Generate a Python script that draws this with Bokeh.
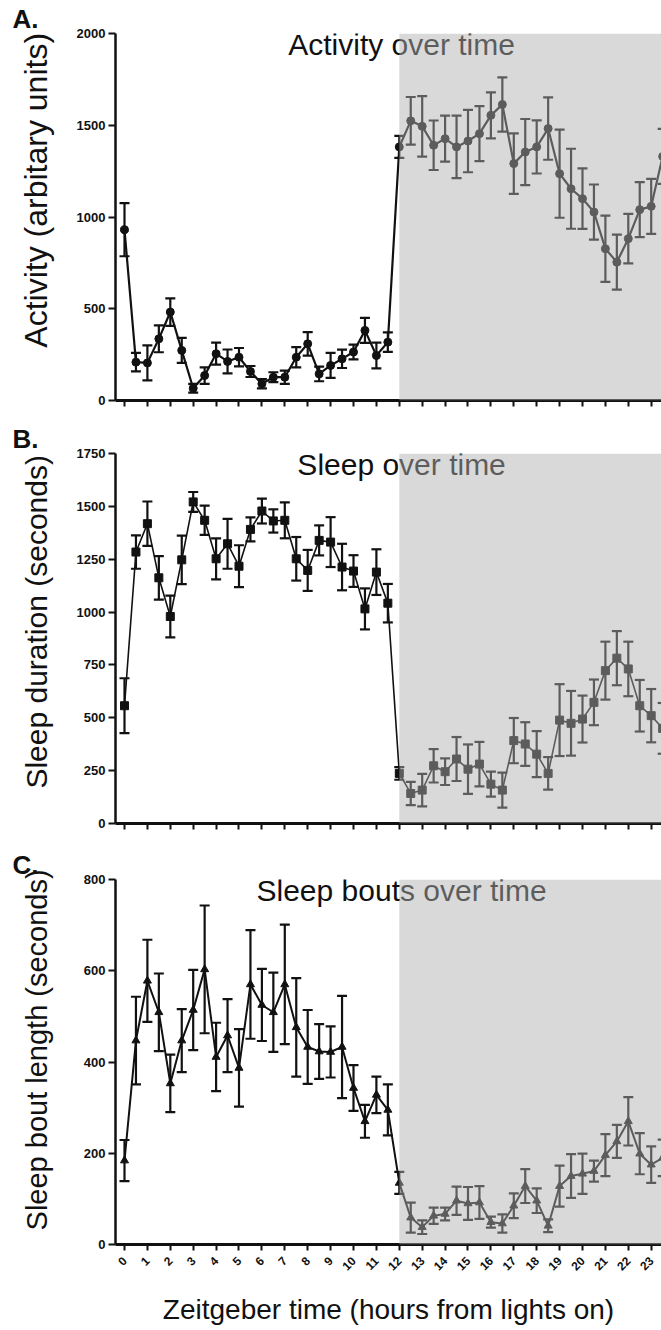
import math
from bokeh.plotting import figure
from bokeh.models import (ColumnDataSource, Whisker, TeeHead, BoxAnnotation, Label,
                          Range1d, FixedTicker)
from bokeh.layouts import column
from bokeh.embed import file_html
from bokeh.resources import INLINE

# Zeitgeber time of each sample (hours from lights on)
zt = [0, 0.5, 1, 1.5, 2, 2.5, 3, 3.5, 4, 4.5, 5, 5.5, 6, 6.5, 7, 7.5,
      8, 8.5, 9, 9.5, 10, 10.5, 11, 11.5, 12, 12.5, 13, 13.5, 14, 14.5, 15, 15.5,
      16, 16.5, 17, 17.5, 18, 18.5, 19, 19.5, 20, 20.5, 21, 21.5, 22, 22.5, 23, 23.5]
hour_ticks = [0, 1, 2, 3, 4, 5, 6, 7, 8, 9, 10, 11, 12, 13, 14, 15, 16, 17, 18, 19, 20, 21, 22, 23]
dark_start = 12

activity_mean = [931, 209, 205, 336, 482, 273, 67, 136, 255, 213, 236, 158, 91, 127, 127, 236,
                 309, 145, 191, 227, 264, 382, 245, 318, 1382, 1524, 1494, 1391, 1427, 1382, 1414, 1454,
                 1554, 1613, 1291, 1354, 1382, 1482, 1236, 1154, 1100, 1027, 827, 754, 882, 1040, 1058, 1330]
activity_sem = [145, 50, 95, 73, 75, 68, 24, 45, 60, 65, 50, 30, 25, 27, 36, 55,
                64, 40, 68, 50, 40, 68, 70, 53, 60, 130, 165, 135, 125, 170, 170, 150,
                125, 148, 165, 180, 145, 170, 240, 218, 165, 150, 180, 150, 135, 150, 150, 150]

sleep_mean = [557, 1284, 1418, 1162, 979, 1247, 1521, 1434, 1252, 1323, 1217, 1391, 1478, 1431, 1434, 1252,
              1197, 1339, 1331, 1213, 1194, 1015, 1189, 1042, 237, 142, 158, 273, 245, 305, 257, 281,
              186, 158, 392, 376, 328, 237, 489, 474, 494, 573, 723, 782, 731, 557, 510, 450]
sleep_sem = [130, 79, 105, 103, 99, 115, 47, 69, 97, 118, 99, 57, 59, 55, 85, 103,
             97, 71, 118, 110, 75, 97, 108, 91, 30, 55, 77, 79, 63, 104, 117, 105,
             59, 83, 107, 103, 109, 77, 170, 153, 111, 108, 137, 128, 129, 122, 126, 120]

bout_mean = [184, 447, 578, 509, 353, 447, 514, 603, 411, 458, 387, 570, 525, 509, 570, 476,
             433, 423, 422, 433, 343, 270, 328, 295, 135, 59, 38, 63, 67, 96, 90, 92,
             49, 46, 85, 128, 96, 41, 128, 150, 155, 161, 196, 226, 270, 199, 175, 190]
bout_sem = [45, 96, 90, 85, 63, 69, 88, 140, 75, 80, 85, 119, 79, 87, 131, 108,
            81, 60, 56, 112, 50, 36, 40, 56, 24, 33, 15, 18, 14, 31, 36, 36,
            12, 20, 27, 37, 27, 14, 45, 48, 44, 23, 46, 36, 53, 45, 40, 40]

activity_ticks = [0, 500, 1000, 1500, 2000]
sleep_ticks = [0, 250, 500, 750, 1000, 1250, 1500, 1750]
bout_ticks = [0, 200, 400, 600, 800]

FONT = "Liberation Sans"
INK = "#111111"
NBSP = "\u00a0"
X0, X1 = -0.393, 23.45


def panel(mean, sem, ymax, yticks, marker, msize, lw, ylabel, ylab_size, ylab_shift,
          title, letter, height, btop, bbottom, ylab_standoff, bottom_panel):
    p = figure(width=661, height=height, x_range=Range1d(X0, X1), y_range=Range1d(0, ymax),
               output_backend="svg", toolbar_location=None,
               min_border_left=115, min_border_right=0,
               min_border_top=btop, min_border_bottom=bbottom)
    p.outline_line_color = None
    p.xgrid.visible = False
    p.ygrid.visible = False
    p.background_fill_color = "white"

    # panel letter as the figure title, pushed left over the axis area
    p.title.text = letter
    p.title.align = "left"
    p.title.offset = -103
    p.title.standoff = 0
    p.title.text_font = FONT
    p.title.text_font_style = "bold"
    p.title.text_font_size = "26px"
    p.title.text_color = INK

    src = ColumnDataSource(dict(x=zt, y=mean,
                                upper=[m + s for m, s in zip(mean, sem)],
                                lower=[m - s for m, s in zip(mean, sem)]))
    wh = Whisker(source=src, base="x", upper="upper", lower="lower",
                 line_color=INK, line_width=2.2,
                 upper_head=TeeHead(size=10, line_color=INK, line_width=2.2),
                 lower_head=TeeHead(size=10, line_color=INK, line_width=2.2))
    p.add_layout(wh)
    p.line("x", "y", source=src, line_color=INK, line_width=lw)
    p.scatter("x", "y", source=src, marker=marker, size=msize,
              fill_color=INK, line_color=INK)

    p.add_layout(Label(x=12.1, y=ymax, y_offset=6, text=title, text_align="center",
                       text_baseline="top", text_font=FONT,
                       text_font_size="30px", text_color=INK))
    p.add_layout(BoxAnnotation(left=dark_start, fill_color="#b0b0b0", fill_alpha=0.48,
                               line_color=None, level="overlay"))

    ya = p.yaxis[0]
    ya.ticker = FixedTicker(ticks=yticks)
    ya.axis_line_width = 2.5
    ya.axis_line_color = INK
    ya.major_tick_line_width = 2
    ya.major_tick_line_color = INK
    ya.major_tick_out = 7
    ya.major_tick_in = 0
    ya.minor_tick_line_color = None
    ya.major_label_standoff = 3
    ya.major_label_text_font = FONT
    ya.major_label_text_font_style = "bold"
    ya.major_label_text_font_size = "13px"
    ya.major_label_text_color = INK
    # leading no-break spaces move the (centred) label up along the axis
    ya.axis_label = NBSP * ylab_shift + ylabel
    ya.axis_label_text_font = FONT
    ya.axis_label_text_font_style = "normal"
    ya.axis_label_text_font_size = ylab_size
    ya.axis_label_text_color = INK
    ya.axis_label_standoff = ylab_standoff

    xa = p.xaxis[0]
    xa.axis_line_width = 3
    xa.axis_line_color = INK
    if bottom_panel:
        xa.ticker = FixedTicker(ticks=hour_ticks)
        xa.major_tick_line_width = 2
        xa.major_tick_line_color = INK
        xa.major_tick_out = 6
        xa.major_tick_in = 0
        xa.minor_tick_line_color = None
        xa.major_label_orientation = math.pi / 4
        xa.major_label_standoff = 8
        xa.major_label_text_font = FONT
        xa.major_label_text_font_style = "bold"
        xa.major_label_text_font_size = "12px"
        xa.major_label_text_color = INK
        xa.axis_label = "Zeitgeber time (hours from lights on)"
        xa.axis_label_text_font = FONT
        xa.axis_label_text_font_style = "normal"
        xa.axis_label_text_font_size = "28px"
        xa.axis_label_text_color = INK
        xa.axis_label_standoff = 17
    else:
        # hour ticks without labels (drawn as minor ticks)
        xa.ticker = FixedTicker(ticks=[], minor_ticks=hour_ticks)
        xa.major_tick_line_color = None
        xa.minor_tick_line_width = 2
        xa.minor_tick_line_color = INK
        xa.minor_tick_out = 6
        xa.minor_tick_in = 0
    return p


pa = panel(activity_mean, activity_sem, 2000, activity_ticks, "circle", 8, 2.2,
           "Activity (arbitary units)", "32px", 6, "Activity over time", "A.",
           420, 33, 20, 20, False)
pb = panel(sleep_mean, sleep_sem, 1750, sleep_ticks, "square", 8, 1.6,
           "Sleep duration (seconds)", "30px", 4, "Sleep over time", "B.",
           420, 33, 17, 21, False)
pc = panel(bout_mean, bout_sem, 800, bout_ticks, "triangle", 8, 2.0,
           "Sleep bout length (seconds)", "29px", 3, "Sleep bouts over time", "C.",
           488, 39, 81, 28, True)

layout = column(pa, pb, pc, spacing=0)
open("out.html", "w").write(file_html(layout, INLINE))
